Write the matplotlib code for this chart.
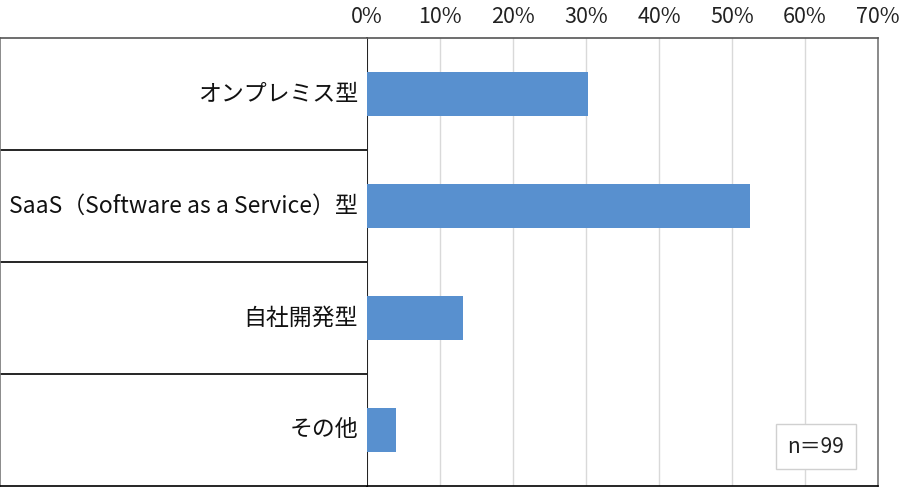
import matplotlib
matplotlib.use('Agg')
import matplotlib.pyplot as plt
from matplotlib.ticker import PercentFormatter

plt.rcParams['font.family'] = ['Noto Sans CJK JP', 'DejaVu Sans']

categories = ['オンプレミス型', 'SaaS（Software as a Service）型', '自社開発型', 'その他']
counts = [30, 52, 13, 4]
n_total = 99
shares = [c / n_total for c in counts]
x_ticks = [0, 0.1, 0.2, 0.3, 0.4, 0.5, 0.6, 0.7]

BAR_COLOR = '#5890CF'
W, H = 900, 503

fig = plt.figure(figsize=(9, 5.03), dpi=100)

# plot area
left, right, top, bottom = 367, 878, 38, 486
pos_y = (H - bottom) / H
pos_h = (bottom - top) / H
ax = fig.add_axes([left / W, pos_y, (right - left) / W, pos_h])
ypos = list(range(len(categories)))
ax.barh(ypos, shares, height=0.4, color=BAR_COLOR, zorder=3)
ax.set_xlim(0, 0.7)
ax.set_ylim(len(categories) - 0.5, -0.5)
ax.set_xticks(x_ticks)
ax.xaxis.set_major_formatter(PercentFormatter(1.0, decimals=0))
ax.xaxis.tick_top()
ax.tick_params(axis='x', length=0, pad=7, labelsize=15.5, colors='#222222')
ax.set_yticks([])
ax.grid(axis='x', color='#d9d9d9', linewidth=1, zorder=0)
ax.spines['left'].set_color('black')
ax.spines['bottom'].set_color('black')
ax.spines['top'].set_color('#555555')
ax.spines['right'].set_color('#777777')
for s in ax.spines.values():
    s.set_linewidth(1.2)

# sample size box
ax.text(0.878, 0.088, 'n＝99', transform=ax.transAxes, ha='center', va='center',
        fontsize=15, color='#222222',
        bbox=dict(boxstyle='square,pad=0.55', facecolor='white', edgecolor='#d0d0d0', linewidth=1))

# label table on the left
axl = fig.add_axes([0, pos_y, left / W, pos_h])
axl.set_xlim(0, 1)
axl.set_ylim(len(categories) - 0.5, -0.5)
axl.set_xticks([])
axl.set_yticks([])
for y in [0.5, 1.5, 2.5]:
    axl.axhline(y, color='black', linewidth=1.2)
for i, cat in enumerate(categories):
    axl.text(0.975, i, cat, ha='right', va='center', fontsize=16.5, color='#111111')
for s in axl.spines.values():
    s.set_color('black')
    s.set_linewidth(1.2)
axl.spines['left'].set_color('#777777')
axl.spines['top'].set_color('#555555')
axl.spines['right'].set_visible(False)

fig.savefig('out.png', dpi=100)
